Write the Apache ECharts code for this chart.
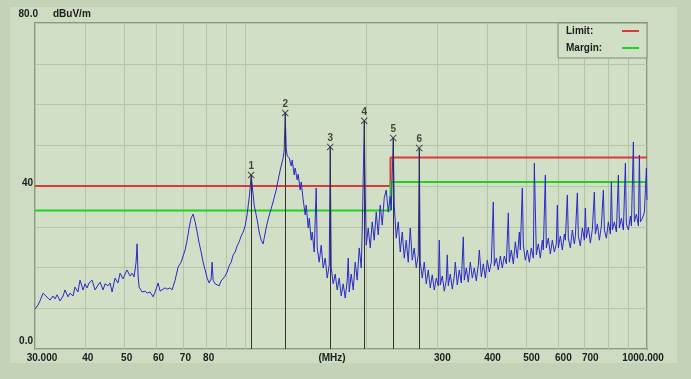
<!DOCTYPE html>
<html><head><meta charset="utf-8">
<script src="https://cdn.jsdelivr.net/npm/echarts@6/dist/echarts.min.js"></script>
<style>
html,body{margin:0;padding:0;background:#c4d3b7;}
#panel{position:absolute;left:10px;top:7px;width:667px;height:356px;background:#cedcc3;}
#c{position:absolute;left:0;top:0;width:691px;height:379px;}
</style>
</head><body><div id="panel"></div><div id="c"></div>
<script>
const traceFreq = [30.00,30.52,30.87,31.41,31.77,32.32,32.69,33.26,33.65,34.04,34.63,35.23,35.63,36.25,36.67,37.30,37.73,38.38,38.83,39.50,39.96,40.42,40.89,41.60,42.32,43.05,43.55,44.31,44.82,45.60,46.12,46.66,47.46,48.28,48.84,49.69,50.26,50.84,51.72,52.32,52.93,53.54,53.84,54.15,54.46,55.41,56.37,57.02,58.01,59.02,59.70,60.74,61.44,62.14,63.22,63.95,65.06,65.81,66.95,68.11,69.29,70.09,70.90,71.72,72.54,73.38,74.23,75.09,75.96,76.83,77.72,78.61,79.52,80.44,81.36,82.30,82.78,83.25,84.21,85.18,86.16,87.16,88.16,89.18,90.21,91.25,92.30,93.37,94.44,95.53,96.63,97.74,98.87,100.02,101.17,102.34,102.93,103.52,104.12,105.32,107.14,108.38,109.63,110.89,111.53,112.81,114.12,115.43,116.76,118.11,119.47,120.85,122.24,123.65,124.36,125.08,125.80,126.52,127.25,128.72,130.20,130.95,132.46,133.22,134.75,135.53,137.09,137.88,139.47,141.09,141.90,143.54,144.36,146.03,146.87,148.56,150.27,151.13,152.87,154.64,156.42,158.23,160.05,161.90,162.83,163.77,165.65,167.56,169.49,171.45,173.42,175.42,177.45,179.49,180.53,181.57,183.66,185.78,187.92,190.08,192.28,194.50,195.61,196.74,197.87,199.01,200.15,202.46,204.80,207.16,209.55,211.96,214.40,216.88,219.38,221.91,224.47,227.06,229.68,231.00,233.66,235.01,237.72,240.46,243.23,246.04,248.88,251.74,254.64,257.58,260.55,263.55,266.59,269.67,271.22,272.78,275.92,279.10,282.32,285.58,288.87,292.20,295.57,298.99,302.43,304.17,305.92,309.45,313.02,316.63,318.45,320.28,323.97,327.71,331.49,333.40,337.24,341.13,345.07,349.05,351.05,355.10,359.19,363.33,367.53,371.76,376.05,380.38,382.57,386.98,391.45,395.96,400.52,405.14,409.81,414.54,416.93,421.73,426.59,431.51,436.49,441.52,446.62,451.77,454.37,459.61,464.91,470.27,475.69,481.18,483.94,489.52,492.34,498.02,503.76,509.57,515.45,521.39,524.39,530.43,536.54,542.73,548.99,552.15,558.52,561.73,568.20,574.76,581.39,588.09,594.88,598.29,601.74,608.67,615.70,622.80,626.37,633.59,637.23,644.58,652.01,659.54,663.33,670.97,674.83,682.61,690.49,698.45,702.47,706.51,714.65,722.89,731.23,739.66,743.92,752.49,761.17,769.95,778.83,783.31,792.34,801.47,810.71,815.38,820.06,829.52,839.10,848.77,853.65,863.49,873.45,883.52,888.60,898.84,909.20,914.44,924.98,930.30,941.04,951.88,957.36,962.86,973.96,985.20,996.56,1000];
const traceLevel = [9.8,10.8,11.8,13.7,14.0,12.5,12.0,13.0,12.3,13.3,11.8,13.0,14.5,12.8,13.7,13.0,15.2,14.0,16.9,14.5,16.0,15.0,16.2,16.9,14.5,15.7,16.4,14.5,16.0,15.5,16.2,14.0,17.4,16.2,18.6,17.2,18.4,19.4,17.9,18.6,17.7,21.3,25.8,18.2,15.2,14.0,14.2,13.7,14.0,12.8,14.0,16.2,14.2,14.5,15.0,14.7,15.0,14.5,16.9,20.1,21.3,22.8,24.3,26.7,29.7,32.1,33.1,31.2,28.7,26.0,23.8,21.3,19.4,17.4,16.2,17.2,21.3,16.9,16.0,16.4,15.5,16.7,16.4,17.9,18.9,20.4,21.3,23.1,23.8,25.3,26.3,27.7,28.7,30.2,33.1,37.1,39.5,42.7,40.2,35.3,31.7,28.7,26.7,25.8,27.2,29.7,31.9,33.6,35.3,37.1,39.0,41.5,43.9,45.9,46.9,48.8,57.9,49.3,47.4,46.9,44.9,46.4,42.7,44.4,41.5,42.9,39.0,41.0,36.6,32.9,35.3,29.7,32.1,26.7,28.7,23.8,39.5,24.8,21.3,25.5,19.9,22.3,17.4,20.6,49.6,19.9,16.0,18.4,14.5,17.4,13.0,16.0,12.5,16.9,22.3,14.0,18.4,14.5,21.3,16.9,24.8,19.9,29.2,42.0,56.0,37.8,25.5,29.7,24.8,31.2,26.7,33.6,28.0,35.3,30.4,37.1,39.0,33.6,37.5,34.1,51.8,35.3,27.2,31.2,23.8,28.7,22.3,26.7,21.3,29.7,21.8,24.8,19.9,23.1,49.3,21.3,17.4,21.3,16.0,19.4,15.0,18.2,14.5,17.4,15.5,26.7,15.7,17.9,14.2,16.9,23.1,15.5,18.4,14.7,17.9,21.3,15.7,19.4,16.2,27.5,16.9,19.9,16.4,21.3,17.4,19.9,16.7,20.6,24.3,17.7,20.9,17.4,21.8,18.9,21.3,36.1,20.4,22.3,19.4,22.8,19.9,22.8,20.9,33.4,21.3,24.3,20.9,26.3,22.3,28.7,24.3,39.5,25.5,21.8,24.3,21.3,24.8,22.3,45.6,23.1,25.8,22.3,26.7,24.3,42.7,24.8,27.2,23.3,26.7,23.8,25.8,35.3,24.8,27.7,24.3,28.2,26.7,37.8,27.2,24.8,29.2,25.8,27.7,38.3,27.7,25.3,29.7,26.7,34.6,27.2,29.9,26.0,29.4,38.5,28.2,30.7,26.7,30.2,39.0,29.2,27.2,31.2,28.2,41.0,29.2,31.2,28.7,42.7,29.7,32.1,29.2,45.6,30.7,29.2,32.6,30.2,50.8,31.2,33.1,30.2,47.6,31.2,32.1,33.6,44.4,36.6];

const limitFreq = [30, 230, 230, 1000];
const limitLevel = [40, 40, 47, 47];
const marginFreq = [30, 230, 230, 1000];
const marginLevel = [34, 34, 41, 41];

const markerFreq = [103.52, 125.80, 162.83, 197.87, 233.66, 271.22];
const markerLevel = [42.7, 57.9, 49.6, 56.0, 51.8, 49.3];
const markerNames = ['1', '2', '3', '4', '5', '6'];

const xTickValues = [30, 40, 50, 60, 70, 80, 90, 100, 200, 300, 400, 500, 600, 700, 800, 900, 1000];
const xLabelValues = [30, 40, 50, 60, 70, 80, 300, 400, 500, 600, 700, 1000];
const xLabelTexts = ['30.000', '40', '50', '60', '70', '80', '300', '400', '500', '600', '700', '1000.000'];
const yLabelValues = [0, 40, 80];
const yLabelTexts = ['0.0', '40', '80.0'];

const PLOT_BG = '#d0dfc6';
const GRID_C = '#b4c4a8';
const TXT = '#1c1c1c';
const FONT = '"Liberation Sans", Arial, sans-serif';
const lbl = extra => Object.assign({fontSize: 10, fontWeight: 'bold', color: TXT, fontFamily: FONT}, extra);

const zip = (a, b) => a.map((v, i) => [v, b[i]]);

const chart = echarts.init(document.getElementById('c'), null, {renderer: 'canvas'});
chart.setOption({
  animation: false,
  backgroundColor: 'transparent',
  textStyle: {fontFamily: FONT},
  grid: {left: 35, right: 44, top: 23, bottom: 30, show: true, containLabel: false,
         outerBoundsMode: 'none',
         backgroundColor: PLOT_BG, borderColor: '#8a9a82', borderWidth: 2},
  legend: {
    data: [{name: 'Limit', icon: 'rect'}, {name: 'Margin', icon: 'rect'}],
    orient: 'vertical', left: 558, top: 23,
    align: 'right', itemWidth: 17, itemHeight: 2, itemGap: 7,
    padding: [3, 8, 5, 8], borderColor: '#7f8f78', borderWidth: 1,
    backgroundColor: PLOT_BG,
    formatter: n => '{a|' + n + ':}',
    textStyle: lbl({rich: {a: lbl({width: 51, align: 'left', height: 12})}})
  },
  xAxis: {
    type: 'log', logBase: 10, min: 30, max: 1000,
    name: '(MHz)', nameLocation: 'middle', nameGap: 9, nameMoveOverlap: false,
    nameTextStyle: lbl({verticalAlign: 'middle', padding: [0, 18, 0, 0]}),
    axisLine: {show: false},
    axisTick: {show: false, customValues: xTickValues},
    splitLine: {show: true, lineStyle: {color: GRID_C, width: 1}},
    minorSplitLine: {show: false},
    axisLabel: Object.assign(lbl({}), {
      customValues: xLabelValues, margin: 4,
      formatter: v => {
        const i = xLabelValues.findIndex(t => Math.abs(t - v) < 1e-6 * t);
        if (i < 0) return '';
        const t = xLabelTexts[i];
        const s = i === 0 ? 'f' : (i === xLabelValues.length - 1 ? 'l' : (t.length === 2 ? 'm' : 'n'));
        return '{' + s + '|' + t + '}';
      },
      rich: {
        f: lbl({padding: [0, 0, 0, 14]}),
        l: lbl({padding: [0, 8, 0, 0]}),
        m: lbl({padding: [0, 0, 0, 5]}),
        n: lbl({padding: [0, 0, 0, 11]})
      }
    })
  },
  yAxis: {
    type: 'value', min: 0, max: 80, interval: 10,
    name: 'dBuV/m', nameLocation: 'end', nameGap: 9, nameMoveOverlap: false,
    nameTextStyle: lbl({align: 'left', verticalAlign: 'middle', padding: [0, 0, 0, 18]}),
    axisLine: {show: false}, axisTick: {show: false},
    splitLine: {show: true, lineStyle: {color: GRID_C, width: 1}},
    axisLabel: Object.assign(lbl({}), {
      margin: -3,
      formatter: v => {
        const i = yLabelValues.indexOf(v);
        if (i < 0) return '';
        return '{' + ['b', 'm', 't'][i] + '|' + yLabelTexts[i] + '}';
      },
      rich: {
        b: lbl({padding: [0, 5, 16, 0]}),
        m: lbl({padding: [0, 5, 5, 0]}),
        t: lbl({padding: [0, 0, 18, 0]})
      }
    })
  },
  series: [
    {
      name: 'markerLines', type: 'scatter', data: zip(markerFreq, markerLevel), symbolSize: 0, z: 1,
      silent: true,
      markLine: {
        silent: true, symbol: 'none', animation: false,
        label: {show: false},
        lineStyle: {color: '#333333', width: 1, type: 'solid'},
        emphasis: {disabled: true},
        data: markerFreq.map((f, i) => [{coord: [f, 0]}, {coord: [f, markerLevel[i]]}])
      }
    },
    {
      name: 'Limit', type: 'line', data: zip(limitFreq, limitLevel), symbol: 'none', z: 2,
      lineStyle: {color: '#dc3a3a', width: 2}, itemStyle: {color: '#dc3a3a'}, silent: true
    },
    {
      name: 'Margin', type: 'line', data: zip(marginFreq, marginLevel), symbol: 'none', z: 2,
      lineStyle: {color: '#22d022', width: 2}, itemStyle: {color: '#22d022'}, silent: true
    },
    {
      name: 'Trace', type: 'line', data: zip(traceFreq, traceLevel), symbol: 'none', z: 3,
      lineStyle: {color: '#2a2ac6', width: 1}, itemStyle: {color: '#2a2ac6'}, silent: true
    },
    {
      name: 'Markers', type: 'scatter', z: 4, silent: true,
      data: markerFreq.map((f, i) => ({value: [f, markerLevel[i]], name: markerNames[i]})),
      symbol: 'path://M0,1 L1,0 L5,4 L9,0 L10,1 L6,5 L10,9 L9,10 L5,6 L1,10 L0,9 L4,5 Z',
      symbolSize: 7, itemStyle: {color: '#222222'},
      label: {show: true, position: 'top', distance: 0, formatter: p => p.name,
              fontSize: 10, fontWeight: 'bold', color: TXT, fontFamily: FONT}
    }
  ]
});
</script>
</body></html>
